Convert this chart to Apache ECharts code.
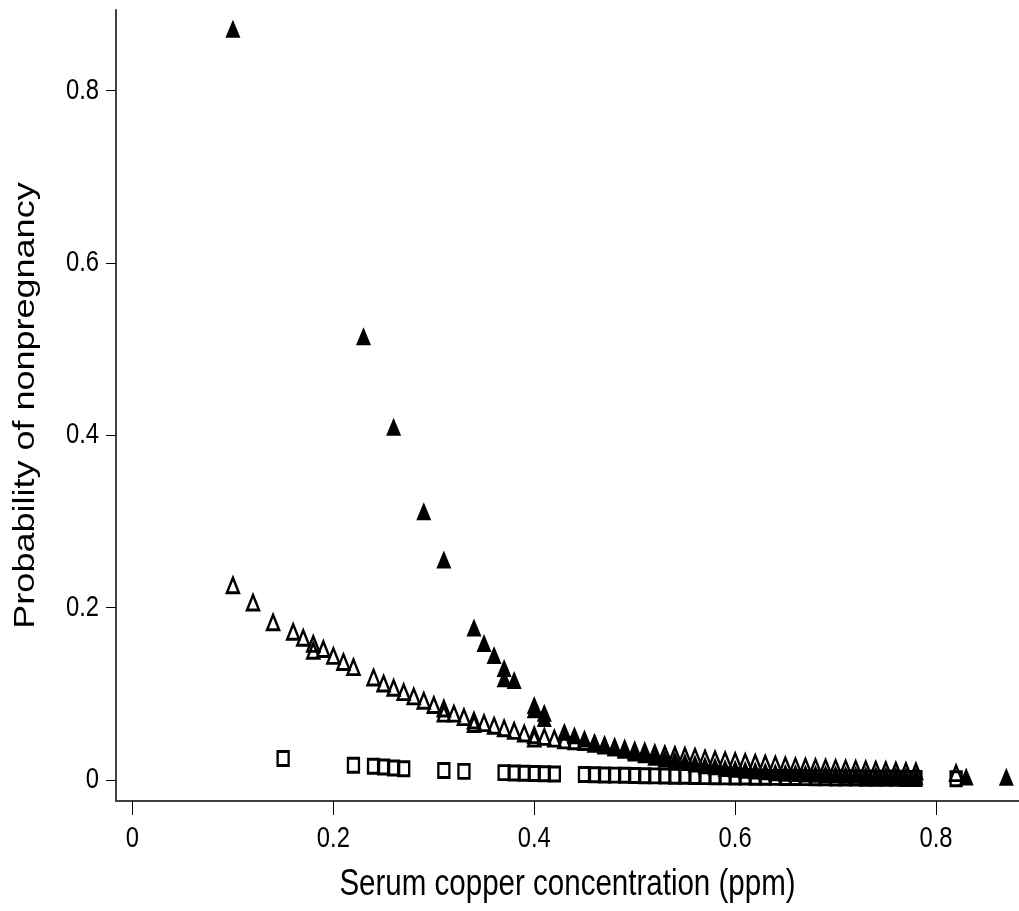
<!DOCTYPE html>
<html>
<head>
<meta charset="utf-8">
<script src="https://cdn.jsdelivr.net/npm/echarts@6/dist/echarts.min.js"></script>
<style>
html,body{margin:0;padding:0;background:#fff;}
#chart{width:1019px;height:911px;}
</style>
</head>
<body>
<div id="chart"></div>
<script>
// Filled triangles
const filledX = [0.10,0.23,0.26,0.29,0.31,0.34,0.35,0.36,0.37,0.37,0.38,0.40,0.40,0.41,0.41,
  0.43,0.44,0.45,0.46,0.47,0.48,0.49,0.50,0.51,0.52,0.53,0.54,0.55,0.56,0.57,0.58,0.59,0.60,
  0.61,0.62,0.63,0.64,0.65,0.66,0.67,0.68,0.69,0.70,0.71,0.72,0.73,0.74,0.75,0.76,0.77,0.78,0.83,0.87];
const filledY = [0.872,0.515,0.410,0.312,0.256,0.177,0.159,0.145,0.130,0.118,0.116,0.087,0.082,0.078,0.072,
  0.056,0.052,0.048,0.044,0.041,0.038,0.035,0.032,0.030,0.027,0.025,0.023,0.021,0.019,0.017,0.016,0.014,0.013,
  0.012,0.011,0.010,0.009,0.0085,0.008,0.0075,0.0072,0.0069,0.0066,0.0062,0.006,0.0057,0.0055,0.0052,0.005,0.0048,0.0046,0.004,0.0038];

// Open triangles
const openX = [0.10,0.12,0.14,0.16,0.17,0.18,0.18,0.19,0.20,0.21,0.22,0.24,0.25,0.26,0.27,0.28,0.29,0.30,0.31,0.31,
  0.32,0.33,0.34,0.34,0.35,0.36,0.37,0.38,0.39,0.40,0.40,0.41,0.42,0.43,0.44,0.45,0.46,0.47,0.48,0.49,0.50,
  0.51,0.52,0.53,0.54,0.55,0.56,0.57,0.58,0.59,0.60,0.61,0.62,0.63,0.64,0.65,0.66,0.67,0.68,0.69,0.70,
  0.71,0.72,0.73,0.74,0.75,0.76,0.77,0.78,0.82];
const openY = [0.226,0.206,0.183,0.172,0.165,0.158,0.150,0.152,0.144,0.137,0.131,0.119,0.112,0.107,0.102,0.097,0.092,0.087,0.083,0.077,
  0.077,0.073,0.069,0.065,0.066,0.063,0.060,0.057,0.054,0.052,0.048,0.050,0.048,0.046,0.045,0.044,0.042,0.040,0.038,0.036,0.034,
  0.033,0.031,0.030,0.029,0.028,0.027,0.025,0.024,0.023,0.022,0.021,0.020,0.019,0.018,0.017,0.016,0.0155,0.015,0.0145,0.014,
  0.0135,0.013,0.0125,0.012,0.0115,0.011,0.0105,0.010,0.008];

// Open squares
const squareX = [0.15,0.22,0.24,0.25,0.26,0.27,0.31,0.33,0.37,0.38,0.39,0.40,0.41,0.42,
  0.45,0.46,0.47,0.48,0.49,0.50,0.51,0.52,0.53,0.54,0.55,0.56,0.57,0.58,0.59,0.60,0.61,0.62,0.63,0.64,
  0.65,0.66,0.67,0.68,0.69,0.70,0.71,0.72,0.73,0.74,0.75,0.76,0.77,0.78,0.82];
const squareY = [0.025,0.017,0.016,0.015,0.014,0.013,0.011,0.010,0.0085,0.0082,0.0079,0.0076,0.0073,0.007,
  0.0063,0.0061,0.0058,0.0056,0.0054,0.0052,0.005,0.0048,0.0046,0.0044,0.0043,0.0041,0.0039,0.0038,0.0036,0.0035,0.0034,0.0032,0.0031,0.003,
  0.0029,0.0028,0.0027,0.0026,0.0025,0.0024,0.0023,0.0022,0.0021,0.002,0.002,0.0019,0.0018,0.0017,0.0015];

const tickValues = [0, 0.2, 0.4, 0.6, 0.8];
const xTitle = 'Serum copper concentration (ppm)';
const yTitle = 'Probability of nonpregnancy';

const zip = (xs, ys) => xs.map((x, i) => [x, ys[i]]);
const font = "'Liberation Sans', Arial, sans-serif";
const fmt = v => (Math.abs(v) < 1e-9 ? '0' : v.toFixed(1));
const X_MIN = -0.0164, X_MAX = 0.8826, Y_MIN = -0.0244, Y_MAX = 0.8937;
const SQUEEZE = 0.82;

const chart = echarts.init(document.getElementById('chart'), null, {renderer: 'canvas'});
chart.setOption({
  animation: false,
  backgroundColor: '#fff',
  grid: {left: 116, right: 0, top: 10, bottom: 110, containLabel: false},
  xAxis: {
    type: 'value', min: X_MIN, max: X_MAX,
    axisLine: {onZero: false, lineStyle: {color: '#404040', width: 2}},
    axisTick: {show: true, inside: false, length: 14, customValues: tickValues, lineStyle: {color: '#000', width: 1}},
    axisLabel: {show: false, customValues: tickValues},
    splitLine: {show: false}
  },
  yAxis: {
    type: 'value', min: Y_MIN, max: Y_MAX,
    axisLine: {onZero: false, lineStyle: {color: '#404040', width: 2}},
    axisTick: {show: true, inside: false, length: 10, customValues: tickValues, lineStyle: {color: '#000', width: 1}},
    axisLabel: {show: false, customValues: tickValues},
    splitLine: {show: false}
  },
  series: [
    {
      name: 'squares', type: 'scatter', symbol: 'rect', symbolSize: [11, 14],
      data: zip(squareX, squareY),
      itemStyle: {color: 'rgba(255,255,255,0)', borderColor: '#000', borderWidth: 2.6, opacity: 1},
      emphasis: {disabled: true}, silent: true
    },
    {
      name: 'open', type: 'scatter', symbol: 'triangle', symbolSize: [12, 15],
      data: zip(openX, openY),
      itemStyle: {color: 'rgba(255,255,255,0)', borderColor: '#000', borderWidth: 2.6, opacity: 1},
      emphasis: {disabled: true}, silent: true
    },
    {
      name: 'filled', type: 'scatter', symbol: 'triangle', symbolSize: [15, 18],
      data: zip(filledX, filledY),
      itemStyle: {color: '#000', opacity: 1},
      emphasis: {disabled: true}, silent: true
    }
  ]
});

// Tick labels and titles drawn as horizontally condensed text, positioned through the axes' scales
const graphics = [];
tickValues.forEach(v => {
  const px = chart.convertToPixel({gridIndex: 0}, [v, Y_MIN]);
  graphics.push({
    type: 'text', x: px[0], y: px[1] + 38, scaleX: SQUEEZE, silent: true,
    style: {text: fmt(v), fontFamily: font, fontSize: 29, fill: '#000', align: 'center', verticalAlign: 'middle'}
  });
  const py = chart.convertToPixel({gridIndex: 0}, [X_MIN, v]);
  graphics.push({
    type: 'text', x: py[0] - 17, y: py[1], scaleX: SQUEEZE, silent: true,
    style: {text: fmt(v), fontFamily: font, fontSize: 29, fill: '#000', align: 'right', verticalAlign: 'middle'}
  });
});
const xMid = chart.convertToPixel({gridIndex: 0}, [(X_MIN + X_MAX) / 2, Y_MIN]);
graphics.push({
  type: 'text', x: xMid[0], y: xMid[1] + 84, scaleX: SQUEEZE, silent: true,
  style: {text: xTitle, fontFamily: font, fontSize: 36, fill: '#000', align: 'center', verticalAlign: 'middle'}
});
const yMid = chart.convertToPixel({gridIndex: 0}, [X_MIN, (Y_MIN + Y_MAX) / 2]);
graphics.push({
  type: 'text', x: yMid[0] - 90, y: yMid[1], rotation: Math.PI / 2, scaleY: SQUEEZE, silent: true,
  style: {text: yTitle, fontFamily: font, fontSize: 36, fill: '#000', align: 'center', verticalAlign: 'middle'}
});
chart.setOption({graphic: graphics});
</script>
</body>
</html>
